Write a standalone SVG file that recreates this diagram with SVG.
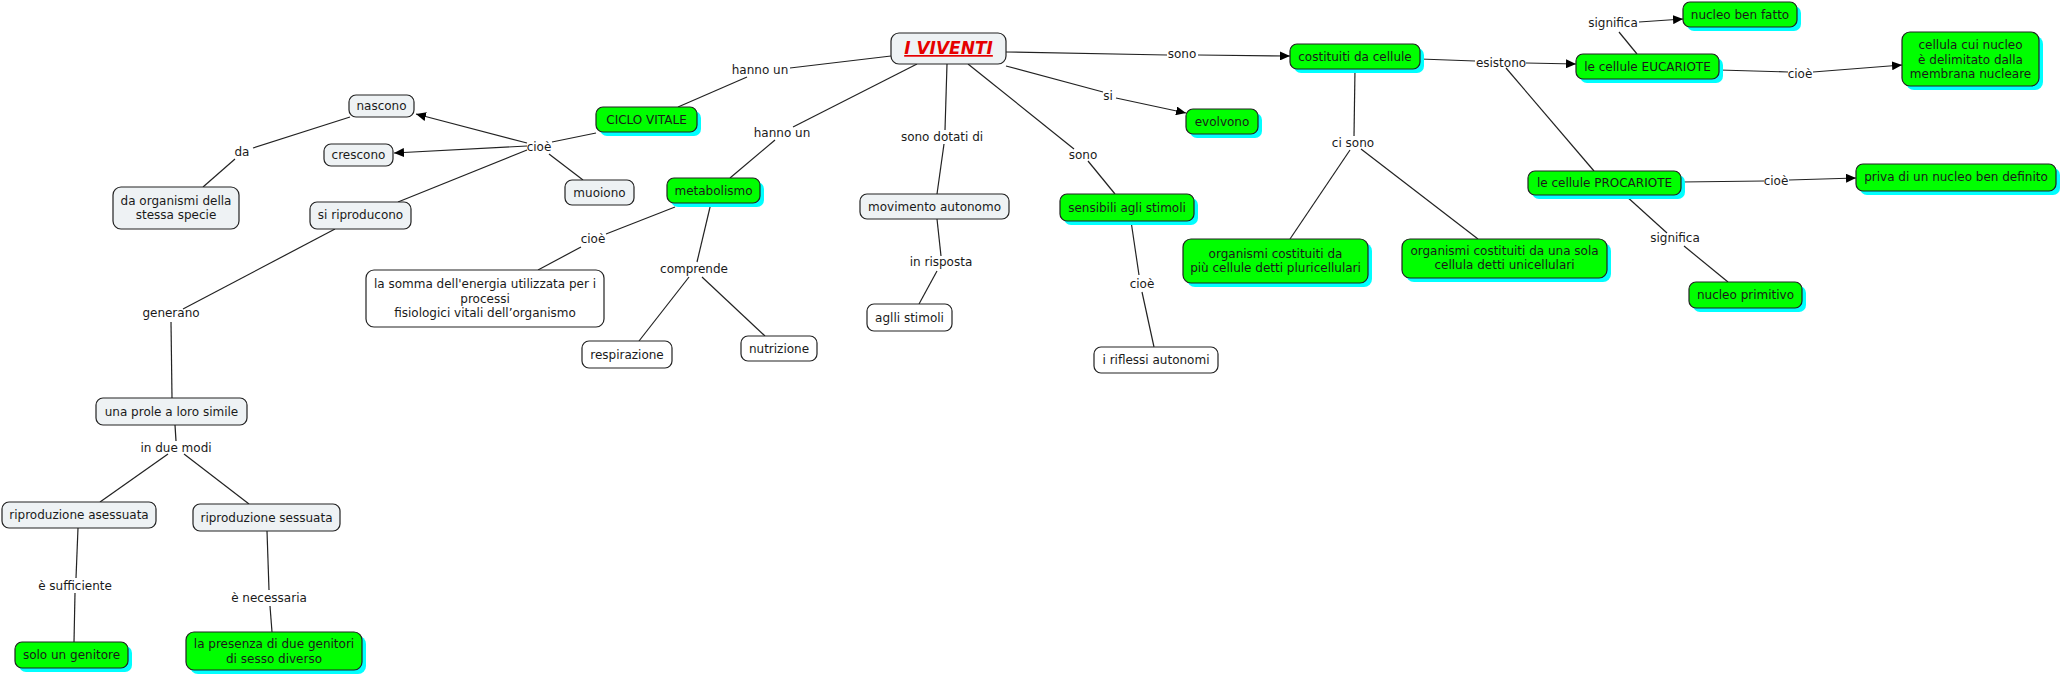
<svg xmlns="http://www.w3.org/2000/svg" width="2061" height="677" viewBox="0 0 2061 677">
<defs>
<style>
text{font-family:"DejaVu Sans","Verdana",sans-serif;font-size:12px;fill:#1a1a1a;text-anchor:middle}
.lt{fill:#eef2f4;stroke:#222;stroke-width:1.2}
.wh{fill:#ffffff;stroke:#222;stroke-width:1.2}
.gr{fill:#00ff00;stroke:#222;stroke-width:1.2}
.sh{fill:#00ffff;stroke:none}
.c line{stroke:#222;stroke-width:1.2}
.ar{marker-end:url(#arr)}
.title{font-size:17px;font-weight:bold;font-style:italic;fill:#e60000;text-decoration:underline}
</style>
<marker id="arr" markerUnits="userSpaceOnUse" markerWidth="11" markerHeight="9" refX="10" refY="4.5" orient="auto">
<path d="M0,0 L10,4.5 L0,9 z" fill="#000"/>
</marker>
</defs>
<rect width="2061" height="677" fill="#fff"/>

<g id="connectors" class="c">
<line x1="350" y1="117" x2="253" y2="148"/>
<line x1="235" y1="159" x2="203" y2="187"/>
<line class="ar" x1="527" y1="143" x2="416" y2="114"/>
<line class="ar" x1="527" y1="146" x2="394" y2="153"/>
<line x1="527" y1="150" x2="398" y2="202"/>
<line x1="596" y1="133" x2="552" y2="142"/>
<line x1="549" y1="154" x2="583" y2="180"/>
<line x1="335" y1="229" x2="183" y2="309"/>
<line x1="171" y1="322" x2="172" y2="398"/>
<line x1="891" y1="56" x2="790" y2="68"/>
<line x1="747" y1="77" x2="678" y2="107"/>
<line x1="917" y1="64" x2="793" y2="127"/>
<line x1="775" y1="140" x2="730" y2="178"/>
<line x1="675" y1="207" x2="606" y2="234"/>
<line x1="581" y1="247" x2="538" y2="270"/>
<line x1="711" y1="203" x2="697" y2="262"/>
<line x1="689" y1="277" x2="639" y2="341"/>
<line x1="702" y1="277" x2="765" y2="336"/>
<line x1="947" y1="64" x2="945" y2="130"/>
<line x1="944" y1="144" x2="937" y2="194"/>
<line x1="937" y1="219" x2="941" y2="256"/>
<line x1="937" y1="271" x2="919" y2="304"/>
<line x1="1006" y1="52" x2="1167" y2="55"/>
<line class="ar" x1="1198" y1="55" x2="1290" y2="56"/>
<line x1="1006" y1="66" x2="1103" y2="92"/>
<line class="ar" x1="1116" y1="98" x2="1186" y2="113"/>
<line x1="968" y1="64" x2="1074" y2="149"/>
<line x1="1088" y1="161" x2="1115" y2="194"/>
<line x1="1131" y1="221" x2="1139" y2="275"/>
<line x1="1142" y1="292" x2="1154" y2="347"/>
<line x1="1420" y1="59" x2="1475" y2="61"/>
<line class="ar" x1="1526" y1="63" x2="1576" y2="64"/>
<line x1="1506" y1="68" x2="1594" y2="171"/>
<line x1="1355" y1="69" x2="1354" y2="136"/>
<line x1="1350" y1="150" x2="1290" y2="239"/>
<line x1="1361" y1="149" x2="1478" y2="239"/>
<line x1="1637" y1="54" x2="1619" y2="32"/>
<line class="ar" x1="1639" y1="22" x2="1683" y2="19"/>
<line x1="1719" y1="70" x2="1788" y2="72"/>
<line class="ar" x1="1813" y1="72" x2="1902" y2="65"/>
<line x1="1681" y1="182" x2="1764" y2="181"/>
<line class="ar" x1="1789" y1="180" x2="1856" y2="178"/>
<line x1="1625" y1="195" x2="1667" y2="233"/>
<line x1="1684" y1="246" x2="1728" y2="282"/>
<line x1="175" y1="425" x2="176" y2="441"/>
<line x1="168" y1="454" x2="100" y2="502"/>
<line x1="184" y1="454" x2="249" y2="504"/>
<line x1="78" y1="528" x2="76" y2="578"/>
<line x1="75" y1="593" x2="74" y2="642"/>
<line x1="267" y1="531" x2="269" y2="590"/>
<line x1="270" y1="606" x2="272" y2="632"/>
</g>

<g id="labels">
<text x="242" y="156">da</text>
<text x="539" y="151">cioè</text>
<text x="171" y="317">generano</text>
<text x="760" y="74">hanno un</text>
<text x="782" y="137">hanno un</text>
<text x="593" y="243">cioè</text>
<text x="694" y="273">comprende</text>
<text x="942" y="141">sono dotati di</text>
<text x="941" y="266">in risposta</text>
<text x="1182" y="58">sono</text>
<text x="1108" y="100">si</text>
<text x="1083" y="159">sono</text>
<text x="1142" y="288">cioè</text>
<text x="1353" y="147">ci sono</text>
<text x="1501" y="67">esistono</text>
<text x="1613" y="27">significa</text>
<text x="1800" y="78">cioè</text>
<text x="1776" y="185">cioè</text>
<text x="1675" y="242">significa</text>
<text x="176" y="452">in due modi</text>
<text x="75" y="590">è sufficiente</text>
<text x="269" y="602">è necessaria</text>
</g>

<g id="n-iviventi"><rect class="lt" x="891" y="33" width="115" height="31" rx="8"/><text class="title" x="948.5" y="54">I VIVENTI</text></g>
<g id="n-nascono"><rect class="lt" x="349" y="95" width="65" height="22" rx="7"/><text x="381.5" y="110">nascono</text></g>
<g id="n-crescono"><rect class="lt" x="324" y="144" width="69" height="22" rx="7"/><text x="358.5" y="159">crescono</text></g>
<g id="n-daorganismi"><rect class="lt" x="113" y="187" width="126" height="42" rx="8"/><text x="176" y="204.5">da organismi della</text><text x="176" y="218.5">stessa specie</text></g>
<g id="n-siriproducono"><rect class="lt" x="310" y="202" width="101" height="27" rx="7"/><text x="360.5" y="219">si riproducono</text></g>
<g id="n-muoiono"><rect class="lt" x="565" y="180" width="69" height="25" rx="7"/><text x="599.5" y="196.5">muoiono</text></g>
<g id="n-ciclovitale"><rect class="sh" x="600" y="111" width="101" height="25" rx="7"/><rect class="gr" x="596" y="107" width="101" height="25" rx="7"/><text x="646.5" y="123.5">CICLO VITALE</text></g>
<g id="n-metabolismo"><rect class="sh" x="671" y="182" width="93" height="25" rx="7"/><rect class="gr" x="667" y="178" width="93" height="25" rx="7"/><text x="713.5" y="194.5">metabolismo</text></g>
<g id="n-lasomma"><rect class="wh" x="366" y="270" width="238" height="57" rx="8"/><text x="485" y="288">la somma dell'energia utilizzata per i</text><text x="485" y="302.5">processi</text><text x="485" y="317">fisiologici vitali dell’organismo</text></g>
<g id="n-respirazione"><rect class="wh" x="582" y="341" width="90" height="27" rx="7"/><text x="627" y="358.5">respirazione</text></g>
<g id="n-nutrizione"><rect class="wh" x="741" y="336" width="76" height="25" rx="7"/><text x="779" y="352.5">nutrizione</text></g>
<g id="n-movimento"><rect class="lt" x="860" y="194" width="149" height="25" rx="7"/><text x="934.5" y="210.5">movimento autonomo</text></g>
<g id="n-agllistimoli"><rect class="wh" x="867" y="304" width="85" height="27" rx="7"/><text x="909.5" y="321.5">aglli stimoli</text></g>
<g id="n-sensibili"><rect class="sh" x="1064" y="198" width="134" height="27" rx="7"/><rect class="gr" x="1060" y="194" width="134" height="27" rx="7"/><text x="1127" y="211.5">sensibili agli stimoli</text></g>
<g id="n-riflessi"><rect class="wh" x="1094" y="347" width="124" height="26" rx="7"/><text x="1156" y="364">i riflessi autonomi</text></g>
<g id="n-costituiti"><rect class="sh" x="1294" y="48" width="130" height="25" rx="7"/><rect class="gr" x="1290" y="44" width="130" height="25" rx="7"/><text x="1355" y="60.5">costituiti da cellule</text></g>
<g id="n-evolvono"><rect class="sh" x="1190" y="113" width="72" height="25" rx="7"/><rect class="gr" x="1186" y="109" width="72" height="25" rx="7"/><text x="1222" y="125.5">evolvono</text></g>
<g id="n-pluri"><rect class="sh" x="1187" y="243" width="185" height="44" rx="8"/><rect class="gr" x="1183" y="239" width="185" height="44" rx="8"/><text x="1275.5" y="257.5">organismi costituiti da</text><text x="1275.5" y="272">più cellule detti pluricellulari</text></g>
<g id="n-uni"><rect class="sh" x="1406" y="243" width="205" height="39" rx="8"/><rect class="gr" x="1402" y="239" width="205" height="39" rx="8"/><text x="1504.5" y="255">organismi costituiti da una sola</text><text x="1504.5" y="269">cellula detti unicellulari</text></g>
<g id="n-eucariote"><rect class="sh" x="1580" y="58" width="143" height="25" rx="7"/><rect class="gr" x="1576" y="54" width="143" height="25" rx="7"/><text x="1647.5" y="70.5">le cellule EUCARIOTE</text></g>
<g id="n-nucleobenfatto"><rect class="sh" x="1687" y="6" width="114" height="25" rx="7"/><rect class="gr" x="1683" y="2" width="114" height="25" rx="7"/><text x="1740" y="18.5">nucleo ben fatto</text></g>
<g id="n-cellulacui"><rect class="sh" x="1906" y="36" width="137" height="54" rx="8"/><rect class="gr" x="1902" y="32" width="137" height="54" rx="8"/><text x="1970.5" y="49">cellula cui nucleo</text><text x="1970.5" y="63.5">è delimitato dalla</text><text x="1970.5" y="78">membrana nucleare</text></g>
<g id="n-procariote"><rect class="sh" x="1532" y="175" width="153" height="24" rx="7"/><rect class="gr" x="1528" y="171" width="153" height="24" rx="7"/><text x="1604.5" y="187">le cellule PROCARIOTE</text></g>
<g id="n-priva"><rect class="sh" x="1860" y="168" width="200" height="27" rx="7"/><rect class="gr" x="1856" y="164" width="200" height="27" rx="7"/><text x="1956" y="181">priva di un nucleo ben definito</text></g>
<g id="n-nucleoprimitivo"><rect class="sh" x="1693" y="286" width="113" height="26" rx="7"/><rect class="gr" x="1689" y="282" width="113" height="26" rx="7"/><text x="1745.5" y="299">nucleo primitivo</text></g>
<g id="n-prole"><rect class="lt" x="96" y="398" width="151" height="27" rx="7"/><text x="171.5" y="415.5">una prole a loro simile</text></g>
<g id="n-asessuata"><rect class="lt" x="2" y="502" width="154" height="26" rx="7"/><text x="79" y="519">riproduzione asessuata</text></g>
<g id="n-sessuata"><rect class="lt" x="193" y="504" width="147" height="27" rx="7"/><text x="266.5" y="521.5">riproduzione sessuata</text></g>
<g id="n-solo"><rect class="sh" x="19" y="646" width="113" height="26" rx="7"/><rect class="gr" x="15" y="642" width="113" height="26" rx="7"/><text x="71.5" y="659">solo un genitore</text></g>
<g id="n-presenza"><rect class="sh" x="190" y="636" width="176" height="38" rx="8"/><rect class="gr" x="186" y="632" width="176" height="38" rx="8"/><text x="274" y="648">la presenza di due genitori</text><text x="274" y="663">di sesso diverso</text></g>
</svg>
